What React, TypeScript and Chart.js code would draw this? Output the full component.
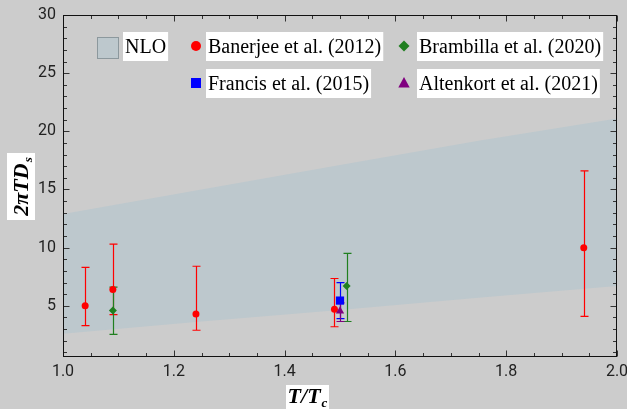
import React, { useEffect, useRef } from "react";
import { Chart, registerables } from "chart.js";

Chart.register(...registerables);

// ---- Data ----
const nloT = [1.0, 1.25, 1.5, 1.75, 2.0];
const nloUpper = [12.9, 15.0, 17.1, 19.2, 21.1];
const nloLower = [2.6, 3.65, 4.65, 5.7, 6.7];

const banerjeeT = [1.04, 1.09, 1.24, 1.49, 1.94];
const banerjeeY = [5.0, 6.4, 4.3, 4.7, 10.0];
const banerjeeLow = [3.3, 4.25, 2.9, 3.2, 4.1];
const banerjeeHigh = [8.3, 10.3, 8.4, 7.35, 16.6];

const brambillaT = [1.09, 1.512];
const brambillaY = [4.6, 6.7];
const brambillaLow = [2.55, 3.65];
const brambillaHigh = [6.6, 9.5];

const francisT = [1.5];
const francisY = [5.45];
const francisLow = [3.9];
const francisHigh = [7.0];

const altenkortT = [1.5];
const altenkortY = [4.55];
const altenkortLow = [3.65];
const altenkortHigh = [5.25];

const xTickValues = [1.0, 1.2, 1.4, 1.6, 1.8, 2.0];
const yTickValues = [5, 10, 15, 20, 25, 30];

const legendNLO = "NLO";
const legendBanerjee = "Banerjee et al. (2012)";
const legendBrambilla = "Brambilla et al. (2020)";
const legendFrancis = "Francis et al. (2015)";
const legendAltenkort = "Altenkort et al. (2021)";

// ---- Styles ----
const BG = "#cccccc";
const BAND = "#bdc8cd";
const RED = "#ff0000";
const GREEN = "#1f7f1f";
const BLUE = "#0000ff";
const PURPLE = "#800080";
const SERIF = '"Liberation Serif", "Times New Roman", serif';

const pts = (xs: number[], ys: number[]) => xs.map((x, i) => ({ x, y: ys[i] }));

function drawMarker(ctx: CanvasRenderingContext2D, style: string, x: number, y: number, r: number, color: string) {
  ctx.save();
  ctx.fillStyle = color;
  ctx.beginPath();
  if (style === "circle") {
    ctx.arc(x, y, r, 0, Math.PI * 2);
  } else if (style === "rect") {
    ctx.rect(x - r, y - r, 2 * r, 2 * r);
  } else if (style === "diamond") {
    ctx.moveTo(x, y - r);
    ctx.lineTo(x + r, y);
    ctx.lineTo(x, y + r);
    ctx.lineTo(x - r, y);
    ctx.closePath();
  } else if (style === "triangle") {
    ctx.moveTo(x, y - r);
    ctx.lineTo(x + r * 0.95, y + r * 0.75);
    ctx.lineTo(x - r * 0.95, y + r * 0.75);
    ctx.closePath();
  }
  ctx.fill();
  ctx.restore();
}

const bgPlugin = {
  id: "bgPlugin",
  beforeDraw(chart: any) {
    const ctx = chart.ctx;
    ctx.save();
    ctx.fillStyle = BG;
    ctx.fillRect(0, 0, chart.width, chart.height);
    ctx.restore();
  },
};

const errorBarPlugin = {
  id: "errorBarPlugin",
  beforeDatasetsDraw(chart: any) {
    const ctx = chart.ctx;
    const xs = chart.scales.x;
    const ys = chart.scales.y;
    chart.data.datasets.forEach((ds: any) => {
      if (!ds.errLow) return;
      ctx.save();
      ctx.strokeStyle = ds.backgroundColor;
      ctx.lineWidth = 1.2;
      ds.data.forEach((p: any, j: number) => {
        const px = Math.round(xs.getPixelForValue(p.x)) + 0.5;
        const yl = ys.getPixelForValue(ds.errLow[j]);
        const yh = ys.getPixelForValue(ds.errHigh[j]);
        ctx.beginPath();
        ctx.moveTo(px, yl);
        ctx.lineTo(px, yh);
        ctx.moveTo(px - 4, yl);
        ctx.lineTo(px + 4, yl);
        ctx.moveTo(px - 4, yh);
        ctx.lineTo(px + 4, yh);
        ctx.stroke();
      });
      ctx.restore();
    });
  },
};

const framePlugin = {
  id: "framePlugin",
  afterDatasetsDraw(chart: any) {
    const ctx = chart.ctx;
    const a = chart.chartArea;
    const xs = chart.scales.x;
    const ys = chart.scales.y;
    const L = Math.round(a.left) + 0.5;
    const R = Math.round(a.right) - 0.5;
    const T = Math.round(a.top) + 0.5;
    const B = Math.round(a.bottom) - 0.5;
    ctx.save();
    ctx.strokeStyle = "#333333";
    ctx.lineWidth = 1;
    for (let k = 0; k <= 20; k++) {
      const v = 1 + k * 0.05;
      const major = k % 4 === 0;
      const len = major ? 6 : 3.5;
      const px = Math.round(xs.getPixelForValue(v)) + 0.5;
      ctx.beginPath();
      ctx.moveTo(px, B);
      ctx.lineTo(px, B - len);
      ctx.moveTo(px, T);
      ctx.lineTo(px, T + len);
      ctx.stroke();
    }
    for (let v = 1; v <= 30; v++) {
      const major = v % 5 === 0;
      const len = major ? 6 : 3.5;
      const py = Math.round(ys.getPixelForValue(v)) + 0.5;
      ctx.beginPath();
      ctx.moveTo(L, py);
      ctx.lineTo(L + len, py);
      ctx.moveTo(R, py);
      ctx.lineTo(R - len, py);
      ctx.stroke();
    }
    ctx.strokeStyle = "#111111";
    ctx.strokeRect(L, T, R - L, B - T);
    ctx.restore();
  },
};

function textWithBox(ctx: CanvasRenderingContext2D, text: string, x: number, cy: number) {
  ctx.font = `20px ${SERIF}`;
  const w = ctx.measureText(text).width;
  ctx.fillStyle = "#ffffff";
  ctx.fillRect(x - 2, cy - 14, w + 4, 29);
  ctx.fillStyle = "#000000";
  ctx.textBaseline = "alphabetic";
  ctx.textAlign = "left";
  ctx.fillText(text, x, cy + 7);
}

function drawMathLabel(ctx: CanvasRenderingContext2D, main: string, sub: string, cx: number, baseline: number) {
  const mainFont = `italic bold 22px ${SERIF}`;
  const subFont = `italic bold 13px ${SERIF}`;
  ctx.font = mainFont;
  const w1 = ctx.measureText(main).width;
  ctx.font = subFont;
  const w2 = ctx.measureText(sub).width;
  const start = cx - (w1 + w2 + 1) / 2;
  ctx.fillStyle = "#000000";
  ctx.textAlign = "left";
  ctx.textBaseline = "alphabetic";
  ctx.font = mainFont;
  ctx.fillText(main, start, baseline);
  ctx.font = subFont;
  ctx.fillText(sub, start + w1 + 1, baseline + 4);
}

const overlayPlugin = {
  id: "overlayPlugin",
  afterDraw(chart: any) {
    const ctx: CanvasRenderingContext2D = chart.ctx;
    ctx.save();
    // Legend
    ctx.fillStyle = BAND;
    ctx.fillRect(97, 37, 22, 22);
    ctx.strokeStyle = "#8c989d";
    ctx.lineWidth = 1;
    ctx.strokeRect(97.5, 37.5, 21, 21);
    textWithBox(ctx, legendNLO, 125, 46);

    drawMarker(ctx, "circle", 196, 46, 5, RED);
    textWithBox(ctx, legendBanerjee, 208, 46);
    drawMarker(ctx, "diamond", 404, 46, 5.5, GREEN);
    textWithBox(ctx, legendBrambilla, 419, 46);

    drawMarker(ctx, "rect", 196, 83, 5, BLUE);
    textWithBox(ctx, legendFrancis, 208, 83);
    drawMarker(ctx, "triangle", 404, 83, 6, PURPLE);
    textWithBox(ctx, legendAltenkort, 419, 83);

    // x axis title
    ctx.fillStyle = "#ffffff";
    ctx.fillRect(286, 385, 43, 24);
    drawMathLabel(ctx, "T/T", "c", 307.5, 403);

    // y axis title (rotated)
    ctx.save();
    ctx.translate(21, 186.5);
    ctx.rotate(-Math.PI / 2);
    ctx.fillStyle = "#ffffff";
    ctx.fillRect(-33.5, -14, 67, 28);
    drawMathLabel(ctx, "2\u03c0TD", "s", 0, 7);
    ctx.restore();

    ctx.restore();
  },
};

export default function App() {
  const canvasRef = useRef<HTMLCanvasElement | null>(null);

  useEffect(() => {
    document.body.style.margin = "0";
    const canvas = canvasRef.current;
    if (!canvas) return;

    const chart = new Chart(canvas, {
      type: "scatter",
      data: {
        datasets: [
          {
            label: legendBanerjee,
            data: pts(banerjeeT, banerjeeY),
            pointStyle: "circle",
            pointRadius: 3.5,
            backgroundColor: RED,
            borderColor: RED,
            borderWidth: 0,
            errLow: banerjeeLow,
            errHigh: banerjeeHigh,
            order: 4,
          } as any,
          {
            label: legendBrambilla,
            data: pts(brambillaT, brambillaY),
            pointStyle: "rectRot",
            pointRadius: 4,
            backgroundColor: GREEN,
            borderColor: GREEN,
            borderWidth: 0,
            errLow: brambillaLow,
            errHigh: brambillaHigh,
            order: 3,
          } as any,
          {
            label: legendFrancis,
            data: pts(francisT, francisY),
            pointStyle: "rect",
            pointRadius: 5.8,
            backgroundColor: BLUE,
            borderColor: BLUE,
            borderWidth: 0,
            errLow: francisLow,
            errHigh: francisHigh,
            order: 2,
          } as any,
          {
            label: legendAltenkort,
            data: pts(altenkortT, altenkortY),
            pointStyle: "triangle",
            pointRadius: 4.8,
            backgroundColor: PURPLE,
            borderColor: PURPLE,
            borderWidth: 0,
            errLow: altenkortLow,
            errHigh: altenkortHigh,
            order: 1,
          } as any,
          {
            label: "NLO upper",
            data: pts(nloT, nloUpper),
            showLine: true,
            pointRadius: 0,
            borderColor: "rgba(0,0,0,0)",
            backgroundColor: BAND,
            fill: "+1",
            order: 10,
          } as any,
          {
            label: "NLO lower",
            data: pts(nloT, nloLower),
            showLine: true,
            pointRadius: 0,
            borderColor: "rgba(0,0,0,0)",
            backgroundColor: BAND,
            fill: false,
            order: 10,
          } as any,
        ],
      },
      options: {
        animation: false,
        responsive: false,
        maintainAspectRatio: false,
        devicePixelRatio: 1,
        events: [],
        layout: { padding: { left: 0, right: 10, top: 15, bottom: 0 } },
        plugins: {
          legend: { display: false },
          tooltip: { enabled: false },
          title: { display: false },
          filler: { drawTime: "beforeDatasetsDraw" } as any,
        },
        scales: {
          x: {
            type: "linear",
            min: 1.0,
            max: 2.0,
            grid: { display: false, drawTicks: false },
            border: { display: false },
            ticks: {
              font: { family: "Roboto", size: 16 },
              color: "#222222",
              padding: 5,
              maxRotation: 0,
              autoSkip: false,
              callback: (v: any) => Number(v).toFixed(1),
            },
            afterBuildTicks: (scale: any) => {
              scale.ticks = xTickValues.map((v) => ({ value: v }));
            },
            afterFit: (scale: any) => {
              scale.height = 52;
              scale.paddingLeft = 0;
              scale.paddingRight = 0;
            },
          },
          y: {
            type: "linear",
            min: 0.6,
            max: 30,
            grid: { display: false, drawTicks: false },
            border: { display: false },
            ticks: {
              font: { family: "Roboto", size: 16 },
              color: "#222222",
              padding: 7,
              autoSkip: false,
              callback: (v: any) => String(v),
            },
            afterBuildTicks: (scale: any) => {
              scale.ticks = yTickValues.map((v) => ({ value: v }));
            },
            afterFit: (scale: any) => {
              scale.width = 63;
              scale.paddingTop = 0;
              scale.paddingBottom = 0;
            },
          },
        },
      } as any,
      plugins: [bgPlugin, errorBarPlugin, framePlugin, overlayPlugin],
    });

    return () => chart.destroy();
  }, []);

  return (
    <div style={{ width: 627, height: 409, position: "relative" }}>
      <canvas ref={canvasRef} width={627} height={409} style={{ display: "block", width: 627, height: 409 }} />
    </div>
  );
}
